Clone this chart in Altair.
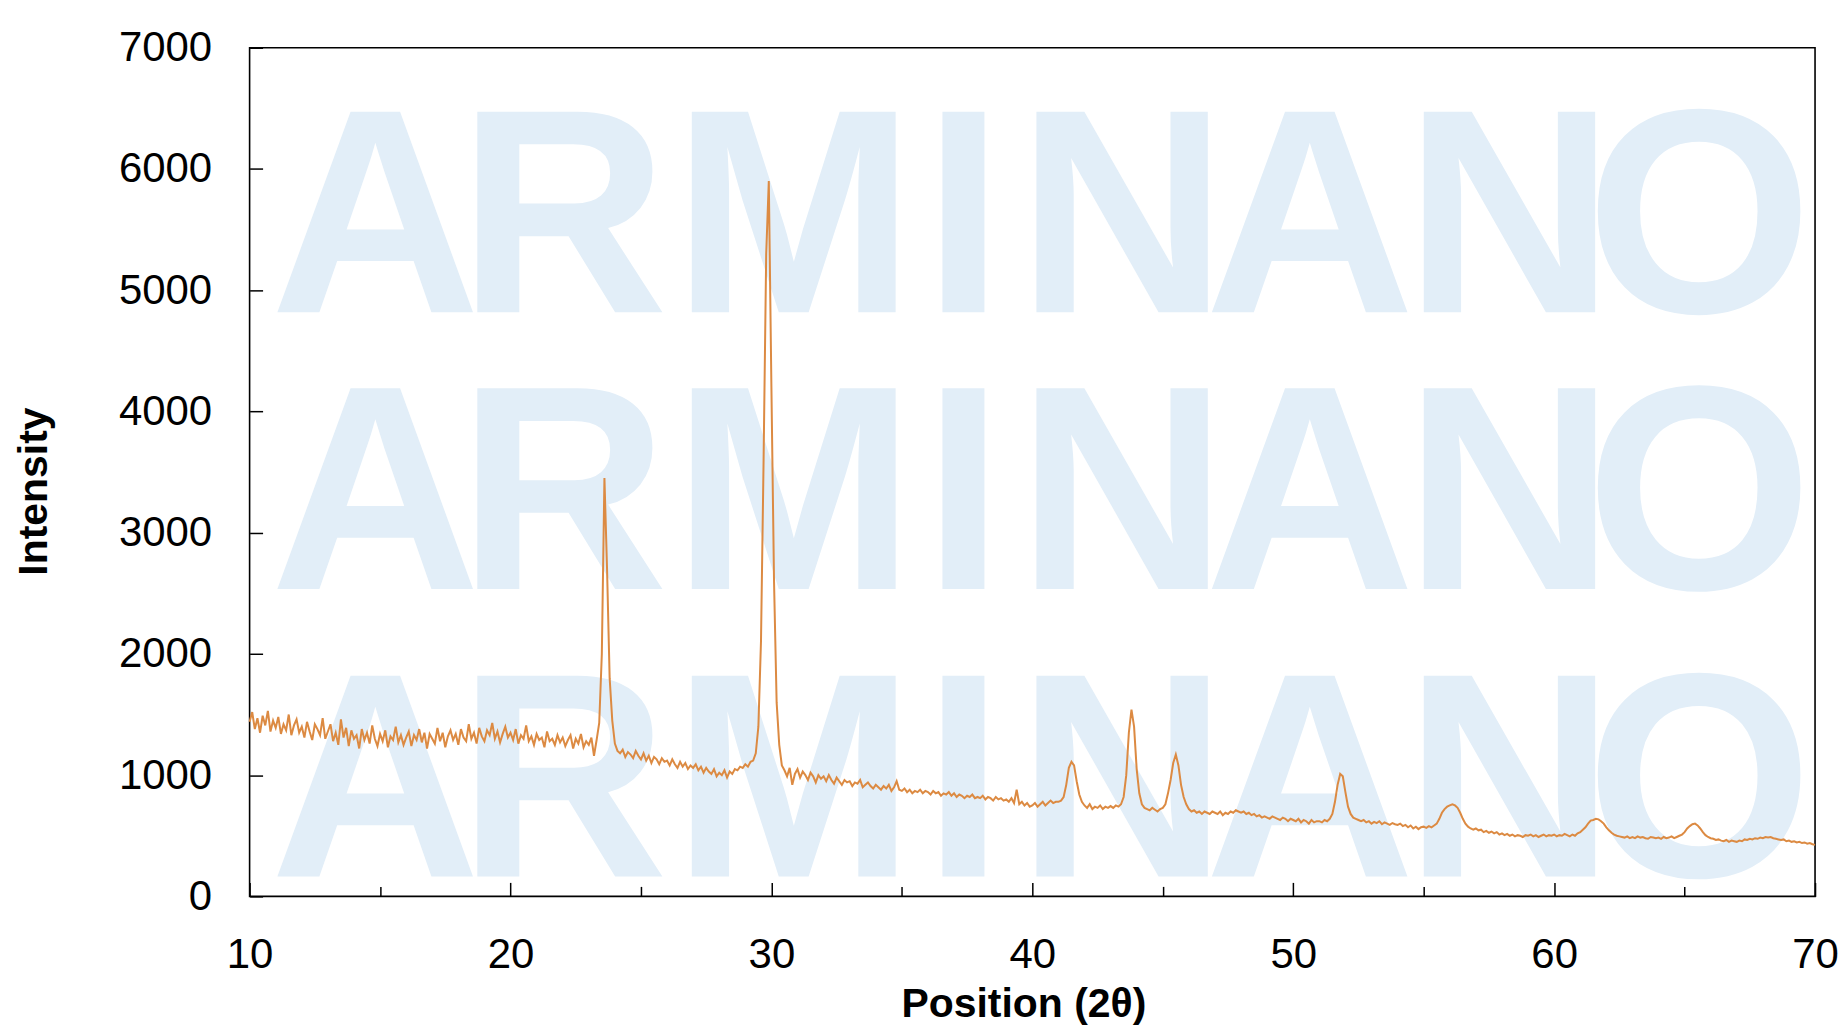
import altair as alt
import pandas as pd

# ---- data (2θ grid every 0.1°) ----
two_theta_start = 10.0
two_theta_step = 0.1

intensity_rows = [
    [1440, 1520, 1380, 1470, 1350, 1490, 1410, 1530, 1360, 1450],  # 10
    [1390, 1480, 1340, 1420, 1370, 1500, 1330, 1410, 1460, 1350],  # 11
    [1400, 1310, 1440, 1360, 1290, 1420, 1380, 1330, 1470, 1300],  # 12
    [1360, 1420, 1280, 1350, 1250, 1460, 1310, 1390, 1240, 1370],  # 13
    [1300, 1330, 1220, 1380, 1290, 1350, 1260, 1410, 1300, 1240],  # 14
    [1340, 1280, 1370, 1230, 1320, 1290, 1400, 1270, 1330, 1250],  # 15
    [1310, 1360, 1240, 1330, 1290, 1380, 1270, 1350, 1220, 1340],  # 16
    [1300, 1260, 1390, 1280, 1350, 1230, 1320, 1370, 1290, 1340],  # 17
    [1250, 1380, 1310, 1280, 1420, 1300, 1350, 1260, 1390, 1320],  # 18
    [1280, 1370, 1330, 1430, 1300, 1360, 1270, 1340, 1400, 1310],  # 19
    [1350, 1290, 1380, 1260, 1330, 1300, 1410, 1280, 1320, 1250],  # 20
    [1340, 1290, 1310, 1230, 1360, 1280, 1300, 1250, 1330, 1270],  # 21
    [1310, 1240, 1290, 1330, 1220, 1300, 1260, 1340, 1230, 1280],  # 22
    [1250, 1310, 1160, 1290, 1430, 2000, 3450, 2700, 1800, 1450],  # 23
    [1260, 1200, 1180, 1210, 1150, 1190, 1170, 1140, 1200, 1160],  # 24
    [1130, 1180, 1120, 1160, 1100, 1150, 1130, 1090, 1140, 1110],  # 25
    [1120, 1080, 1130, 1090, 1060, 1110, 1070, 1100, 1050, 1080],  # 26
    [1060, 1090, 1040, 1070, 1020, 1060, 1030, 1010, 1050, 990],   # 27
    [1020, 1000, 1040, 980, 1030, 1010, 1050, 1040, 1070, 1060],   # 28
    [1090, 1070, 1110, 1120, 1180, 1400, 2100, 3600, 5300, 5900],  # 29
    [4200, 2600, 1600, 1250, 1080, 1040, 990, 1060, 920, 1010],    # 30
    [1050, 980, 1030, 1000, 960, 1020, 990, 940, 1000, 970],       # 31
    [990, 950, 1000, 960, 930, 980, 950, 920, 960, 940],           # 32
    [950, 910, 940, 930, 960, 900, 920, 940, 910, 890],            # 33
    [920, 900, 880, 910, 890, 920, 870, 900, 950, 880],            # 34
    [870, 890, 860, 880, 850, 870, 860, 880, 850, 870],            # 35
    [860, 840, 870, 850, 860, 830, 850, 840, 860, 830],            # 36
    [850, 820, 840, 830, 810, 830, 820, 840, 810, 820],            # 37
    [810, 830, 800, 820, 810, 790, 820, 800, 810, 790],            # 38
    [800, 780, 810, 770, 880, 760, 780, 750, 770, 740],            # 39
    [750, 770, 740, 760, 780, 750, 770, 790, 770, 780],            # 40
    [780, 790, 820, 920, 1060, 1110, 1080, 950, 840, 780],         # 41
    [750, 730, 760, 720, 740, 730, 750, 720, 740, 730],            # 42
    [745, 730, 750, 740, 760, 820, 1000, 1350, 1540, 1400],        # 43
    [1050, 850, 760, 730, 720, 710, 730, 715, 700, 720],           # 44
    [730, 760, 850, 960, 1100, 1170, 1080, 920, 820, 760],         # 45
    [720, 700, 710, 690, 700, 680, 700, 690, 680, 700],            # 46
    [690, 680, 700, 670, 690, 680, 700, 690, 710, 700],            # 47
    [690, 700, 680, 690, 670, 680, 660, 670, 650, 660],            # 48
    [650, 640, 660, 650, 640, 630, 650, 640, 620, 640],            # 49
    [630, 620, 640, 610, 630, 620, 600, 630, 610, 620],            # 50
    [620, 610, 630, 620, 640, 680, 780, 920, 1010, 990],           # 51
    [860, 740, 680, 650, 640, 630, 620, 630, 610, 620],            # 52
    [600, 615, 605, 620, 595, 610, 600, 590, 605, 595],            # 53
    [590, 600, 580, 590, 570, 585, 560, 575, 555, 570],            # 54
    [575, 565, 580, 570, 585, 600, 640, 690, 720, 740],            # 55
    [750, 760, 750, 730, 690, 640, 600, 575, 560, 550],            # 56
    [560, 545, 550, 530, 540, 525, 535, 520, 530, 510],            # 57
    [520, 505, 515, 500, 510, 495, 505, 500, 490, 505],            # 58
    [500, 510, 495, 505, 490, 500, 510, 495, 505, 500],            # 59
    [510, 495, 505, 500, 515, 505, 495, 510, 500, 520],            # 60
    [530, 550, 570, 600, 625, 630, 640, 635, 620, 600],            # 61
    [570, 545, 525, 510, 500, 495, 490, 485, 495, 480],            # 62
    [490, 480, 495, 485, 490, 480, 475, 490, 485, 480],            # 63
    [485, 475, 490, 480, 485, 495, 480, 490, 500, 510],            # 64
    [530, 560, 580, 595, 600, 585, 560, 530, 505, 490],            # 65
    [480, 475, 465, 470, 460, 455, 465, 450, 460, 455],            # 66
    [450, 460, 455, 470, 465, 475, 470, 480, 475, 485],            # 67
    [480, 490, 485, 490, 480, 475, 470, 465, 470, 455],            # 68
    [460, 450, 455, 445, 450, 440, 445, 435, 440, 430],            # 69
    [425],                                                         # 70
]

x_label_values = [10, 20, 30, 40, 50, 60, 70]
x_minor_values = [15, 25, 35, 45, 55, 65]
y_label_values = [0, 1000, 2000, 3000, 4000, 5000, 6000, 7000]
watermark_letters = ["A", "R", "M", "I", "N", "A", "N", "O"]

intensity = [v for row in intensity_rows for v in row]
two_theta = [round(two_theta_start + i * two_theta_step, 1) for i in range(len(intensity))]
df = pd.DataFrame({"two_theta": two_theta, "intensity": intensity})

FONT = "Liberation Sans"
W, H = 1568, 850

xs = alt.Scale(domain=[10, 70], nice=False, zero=False)
ys = alt.Scale(domain=[0, 7000], nice=False)

x_main = alt.Axis(
    orient="bottom", values=x_label_values, format="d", title="Position (2θ)",
    labelFont=FONT, labelFontSize=42, labelColor="#000", labelPadding=38,
    labelFlush=False, labelOverlap=False, labelBound=False,
    ticks=False, tickSize=0, domain=False, grid=False,
    titleFont=FONT, titleFontSize=41, titleFontWeight="bold", titleColor="#000",
    titleX=775, titleY=108, titleAlign="center", titleBaseline="middle",
)
y_main = alt.Axis(
    orient="left", values=y_label_values, format="d", title="Intensity",
    labelFont=FONT, labelFontSize=42, labelColor="#000", labelPadding=38,
    labelOverlap=False, labelBound=False,
    ticks=False, tickSize=0, domain=False, grid=False,
    titleFont=FONT, titleFontSize=41, titleFontWeight="bold", titleColor="#000",
    titleAngle=270, titleX=-215, titleY=444, titleAlign="center", titleBaseline="middle",
)

def tick_axis(orient, values, size):
    return alt.Axis(orient=orient, values=values, labels=False, domain=False,
                    grid=False, title=None, ticks=True, tickSize=size,
                    offset=-size, tickColor="#000", tickWidth=1.5)

base = alt.Chart(df)

# watermark: one text per letter, centred where each letter sits in the picture
letter_centres = [126, 314, 545, 715, 874, 1062, 1262, 1452]
row_baselines = [265, 542, 830]
wm_layers = []
for ypix in row_baselines:
    for letter, xpix in zip(watermark_letters, letter_centres):
        wm_layers.append(
            alt.Chart(pd.DataFrame({"t": [letter]})).mark_text(
                font=FONT, fontWeight="bold", fontSize=292,
                color="#e2eef8", align="center", baseline="alphabetic",
            ).encode(x=alt.value(xpix), y=alt.value(ypix), text="t:N")
        )

line = base.mark_line(color="#dc8a42", strokeWidth=2).encode(
    x=alt.X("two_theta:Q", scale=xs, axis=x_main),
    y=alt.Y("intensity:Q", scale=ys, axis=y_main),
)

major_ticks = base.mark_line(strokeOpacity=0).encode(
    x=alt.X("two_theta:Q", scale=xs, axis=tick_axis("bottom", x_label_values, 14)),
    y=alt.Y("intensity:Q", scale=ys, axis=tick_axis("left", y_label_values, 13)),
)
minor_ticks = base.mark_line(strokeOpacity=0).encode(
    x=alt.X("two_theta:Q", scale=xs, axis=tick_axis("bottom", x_minor_values, 10)),
    y=alt.Y("intensity:Q", scale=ys, axis=None),
)

chart = alt.layer(*wm_layers, line, major_ticks, minor_ticks).resolve_axis(
    x="independent", y="independent"
).properties(
    width=W, height=H,
    autosize=alt.AutoSizeParams(type="none"),
    padding={"left": 242, "top": 39, "right": 23, "bottom": 133},
    background="white",
).configure_view(stroke="#000", strokeWidth=1.6)

chart.save("out.html", embed_options={"renderer": "svg", "actions": False})
